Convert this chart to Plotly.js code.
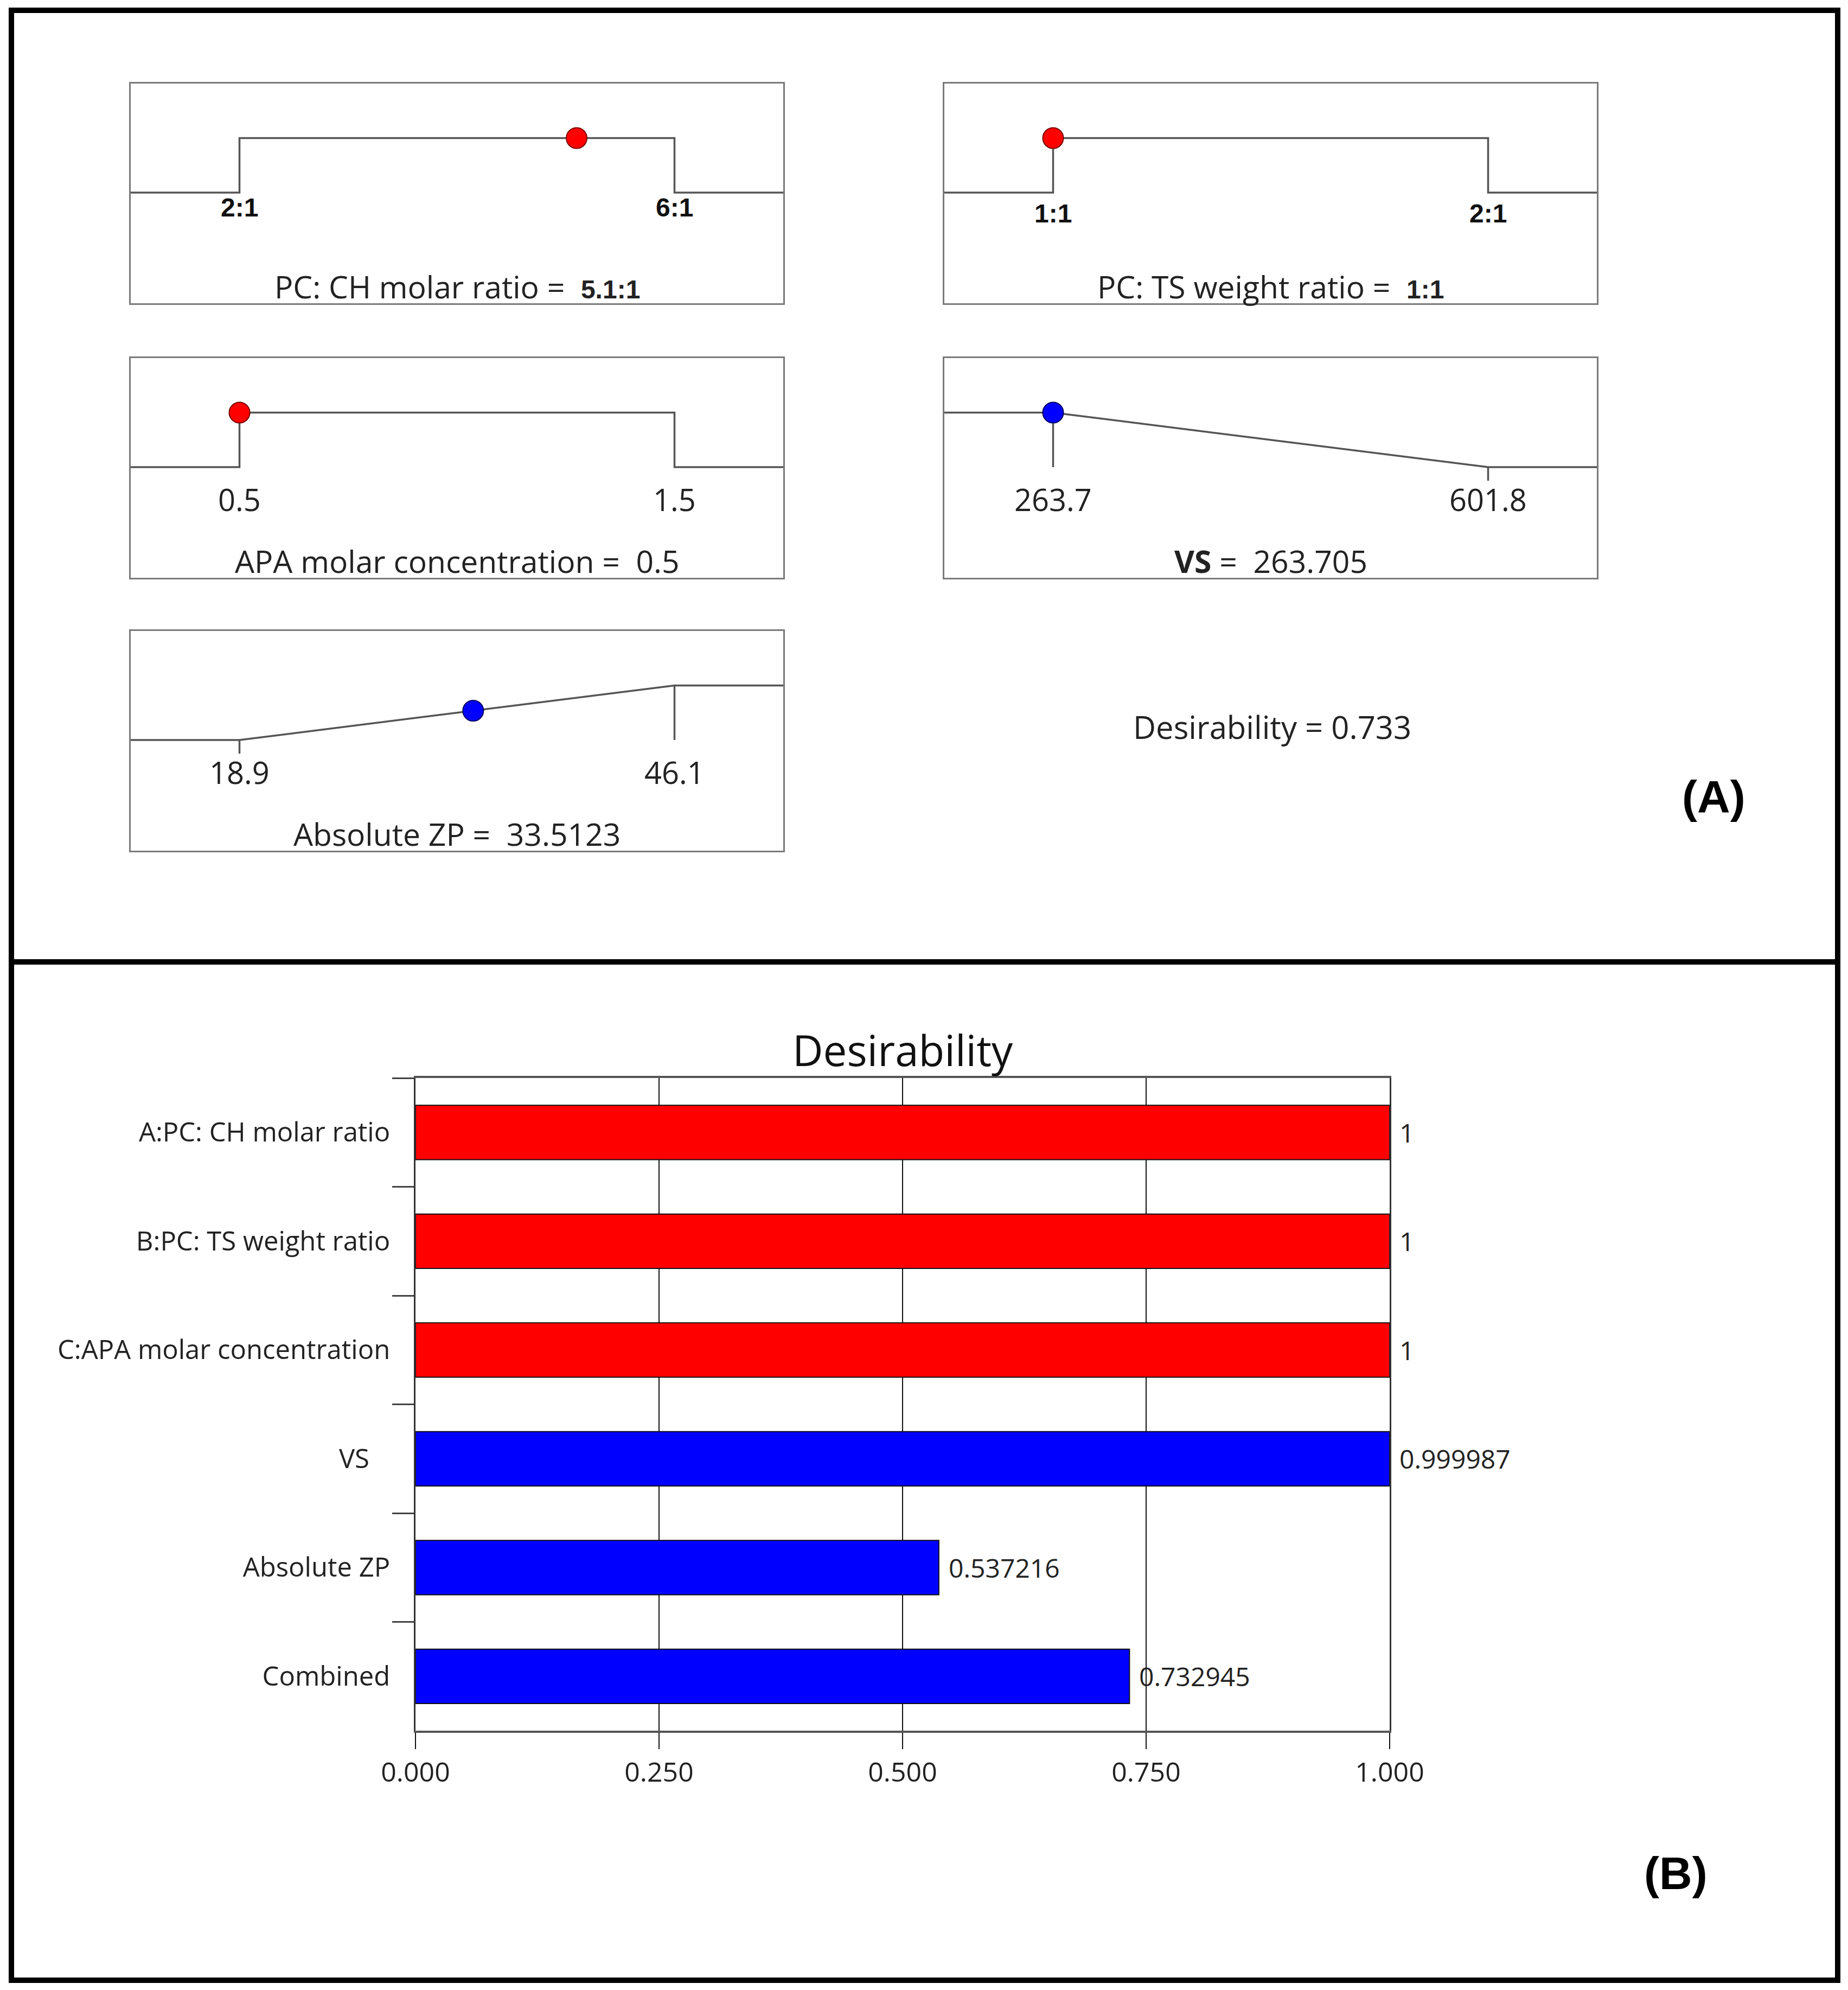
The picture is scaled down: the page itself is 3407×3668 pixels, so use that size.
<!DOCTYPE html>
<html>
<head>
<meta charset="utf-8">
<script src="https://cdn.plot.ly/plotly-3.0.1.min.js"></script>
<style>html,body{margin:0;padding:0;background:#fff;}</style>
</head>
<body>
<div id="chart" style="width:3407px;height:3668px;"></div>
<script>
// ---------------- DATA ----------------
const factorNames   = ['PC: CH molar ratio', 'PC: TS weight ratio', 'APA molar concentration', 'VS', 'Absolute ZP'];
const lowLimits     = [2, 1, 0.5, 263.7, 18.9];
const highLimits    = [6, 2, 1.5, 601.8, 46.1];
const lowLabels     = ['2:1', '1:1', '0.5', '263.7', '18.9'];
const highLabels    = ['6:1', '2:1', '1.5', '601.8', '46.1'];
const goals         = ['in range', 'in range', 'in range', 'minimize', 'maximize'];
const solutions     = [5.1, 1, 0.5, 263.705, 33.5123];
const solutionLabels= ['5.1:1', '1:1', '0.5', '263.705', '33.5123'];
const itemKinds     = ['factor', 'factor', 'factor', 'response', 'response', 'combined'];

const barCategories = ['A:PC: CH molar ratio', 'B:PC: TS weight ratio', 'C:APA molar concentration', 'VS\u00a0\u00a0\u00a0', 'Absolute ZP', 'Combined'];
const desirabilityValues = [1, 1, 1, 0.999987, 0.537216, 0.732945];
const desirabilityLabels = ['1', '1', '1', '0.999987', '0.537216', '0.732945'];
const xTickValues = [0, 0.25, 0.5, 0.75, 1.0];

// ---------------- STYLE ----------------
const W = 3407, H = 3668;
const px = v => v / W;
const py = v => 1 - v / H;
const RED = '#FF0000', BLUE = '#0000FF';
const kindColor = k => (k === 'factor' ? RED : BLUE);
const kindEdge  = k => (k === 'factor' ? '#7a0000' : '#000060');

// panel A box pixel rectangles [left, right, top, bottom]
const boxRects = [
  [241, 1444, 154, 559],
  [1741, 2944, 154, 559],
  [241, 1444, 660, 1065],
  [1741, 2944, 660, 1065],
  [241, 1444, 1163, 1568]
];
const limitLabelLevel = [-0.27, -0.38, -0.59, -0.59, -0.59];
const limitLabelBold  = [true, true, false, false, false];
const titleValueBold  = [true, true, false, false, false];
const titleNameBold   = [false, false, false, true, false];
const Y_RANGE = [-2.03, 2.0];
const TITLE_LEVEL = -1.72;

const traces = [];
const annotations = [];
const layout = {
  width: W, height: H,
  margin: {l: 0, r: 0, t: 0, b: 0},
  paper_bgcolor: '#ffffff',
  plot_bgcolor: '#ffffff',
  showlegend: false,
  font: {family: 'Open Sans, sans-serif', color: '#222'},
  shapes: [
    {type: 'rect', xref: 'paper', yref: 'paper', x0: px(21), x1: px(3388), y0: py(3650), y1: py(19),
     line: {color: '#000', width: 10}},
    {type: 'line', xref: 'paper', yref: 'paper', x0: px(21), x1: px(3388), y0: py(1773), y1: py(1773),
     line: {color: '#000', width: 10}}
  ],
  annotations: annotations
};

// ---------------- PANEL A ----------------
factorNames.forEach((name, i) => {
  const n = i + 1;
  const xa = n === 1 ? 'x' : 'x' + n;
  const ya = n === 1 ? 'y' : 'y' + n;
  const lo = lowLimits[i], hi = highLimits[i], span = hi - lo;
  const x0 = lo - 0.25 * span, x1 = hi + 0.25 * span;
  const r = boxRects[i];
  const d = desirabilityValues[i];

  layout[n === 1 ? 'xaxis' : 'xaxis' + n] = {
    domain: [px(r[0]), px(r[1])], range: [x0, x1], anchor: ya,
    showgrid: false, zeroline: false, showticklabels: false, ticks: '',
    showline: true, mirror: true, linecolor: '#7a7a7a', linewidth: 3, fixedrange: true
  };
  layout[n === 1 ? 'yaxis' : 'yaxis' + n] = {
    domain: [py(r[3]), py(r[2])], range: Y_RANGE, anchor: xa,
    showgrid: false, zeroline: false, showticklabels: false, ticks: '',
    showline: true, mirror: true, linecolor: '#7a7a7a', linewidth: 3, fixedrange: true
  };

  // desirability function curve
  let cx, cy, dLo, dHi;
  if (goals[i] === 'in range') { cx = [x0, lo, lo, hi, hi, x1]; cy = [0, 0, 1, 1, 0, 0]; dLo = null; dHi = null; }
  else if (goals[i] === 'minimize') { cx = [x0, lo, hi, x1]; cy = [1, 1, 0, 0]; dLo = 1; dHi = 0; }
  else { cx = [x0, lo, hi, x1]; cy = [0, 0, 1, 1]; dLo = 0; dHi = 1; }
  traces.push({type: 'scatter', mode: 'lines', x: cx, y: cy, xaxis: xa, yaxis: ya,
    line: {color: '#555', width: 3.5}, hoverinfo: 'skip'});

  // limit tick lines for ramp goals
  if (dLo !== null) {
    const tx = [lo, lo, null, hi, hi];
    const ty = [dLo, dLo > 0 ? 0 : -0.25, null, dHi, dHi > 0 ? 0 : -0.25];
    traces.push({type: 'scatter', mode: 'lines', x: tx, y: ty, xaxis: xa, yaxis: ya,
      line: {color: '#555', width: 3.5}, hoverinfo: 'skip'});
  }

  // current solution dot
  traces.push({type: 'scatter', mode: 'markers', x: [solutions[i]], y: [d], xaxis: xa, yaxis: ya,
    cliponaxis: false,
    marker: {size: 38, color: kindColor(itemKinds[i]), line: {color: kindEdge(itemKinds[i]), width: 2}},
    hoverinfo: 'skip'});

  // limit labels
  const lblFont = limitLabelBold[i]
    ? {family: 'Liberation Sans, Arial, sans-serif', size: 48, color: '#111', weight: 'bold'}
    : {family: 'Open Sans, sans-serif', size: 56, color: '#222'};
  [[lo, lowLabels[i]], [hi, highLabels[i]]].forEach(([xv, txt]) => {
    annotations.push({xref: xa, yref: ya, x: xv, y: limitLabelLevel[i], text: limitLabelBold[i] ? '<b>' + txt + '</b>' : txt,
      showarrow: false, xanchor: 'center', yanchor: 'middle', font: lblFont});
  });

  // bottom title
  const nm = titleNameBold[i] ? '<b>' + name + '</b>' : name;
  const val = titleValueBold[i]
    ? '<span style="font-family:Liberation Sans, Arial, sans-serif;font-size:48px"><b>' + solutionLabels[i] + '</b></span>'
    : solutionLabels[i];
  annotations.push({xref: xa, yref: ya, x: (x0 + x1) / 2, y: TITLE_LEVEL, text: nm + ' =  ' + val,
    showarrow: false, xanchor: 'center', yanchor: 'middle',
    font: {family: 'Open Sans, sans-serif', size: 57, color: '#222'}});
});

// overall desirability text
const combined = desirabilityValues[desirabilityValues.length - 1];
annotations.push({xref: 'paper', yref: 'paper', x: px(2345), y: py(1340),
  text: 'Desirability = ' + combined.toFixed(3), showarrow: false, xanchor: 'center', yanchor: 'middle',
  font: {family: 'Open Sans, sans-serif', size: 58, color: '#222'}});

// panel tags
annotations.push({xref: 'paper', yref: 'paper', x: px(3159), y: py(1469), text: '<b>(A)</b>', showarrow: false,
  xanchor: 'center', yanchor: 'middle', font: {family: 'Liberation Sans, Arial, sans-serif', size: 84, color: '#000'}});
annotations.push({xref: 'paper', yref: 'paper', x: px(3089), y: py(3453), text: '<b>(B)</b>', showarrow: false,
  xanchor: 'center', yanchor: 'middle', font: {family: 'Liberation Sans, Arial, sans-serif', size: 84, color: '#000'}});

// ---------------- PANEL B ----------------
traces.push({
  type: 'bar', orientation: 'h', x: desirabilityValues, y: barCategories,
  xaxis: 'x6', yaxis: 'y6', width: 0.5,
  marker: {color: itemKinds.map(kindColor), line: {color: '#111', width: 2}},
  hoverinfo: 'skip'
});

layout.xaxis6 = {
  domain: [px(766), px(2562)], range: [0, 1], anchor: 'y6',
  tickmode: 'array', tickvals: xTickValues, tickformat: '.3f',
  showgrid: true, gridcolor: '#111', gridwidth: 2,
  ticks: 'outside', ticklen: 30, tickwidth: 2, tickcolor: '#111',
  showline: true, mirror: true, linecolor: '#555', linewidth: 4,
  zeroline: false, tickfont: {family: 'Open Sans, sans-serif', size: 50, color: '#222'}, fixedrange: true
};
layout.yaxis6 = {
  domain: [py(3190), py(1987)], anchor: 'x6', type: 'category', autorange: 'reversed',
  ticks: 'outside', tickson: 'boundaries', ticklen: 40, tickwidth: 3, tickcolor: '#444',
  ticklabelstandoff: 34,
  showgrid: false, zeroline: false,
  showline: true, mirror: true, linecolor: '#333', linewidth: 3,
  tickfont: {family: 'Open Sans, sans-serif', size: 49, color: '#222'}, fixedrange: true
};

annotations.push({xref: 'paper', yref: 'paper', x: px(1664), y: py(1935), text: 'Desirability',
  showarrow: false, xanchor: 'center', yanchor: 'middle',
  font: {family: 'Open Sans, sans-serif', size: 78, color: '#111'}});

desirabilityValues.forEach((v, i) => {
  annotations.push({xref: 'x6', yref: 'y6', x: v, y: barCategories[i], text: desirabilityLabels[i],
    showarrow: false, xanchor: 'left', yanchor: 'middle', xshift: 16,
    font: {family: 'Open Sans, sans-serif', size: 48, color: '#222'}});
});

Plotly.newPlot('chart', traces, layout, {displayModeBar: false, staticPlot: true});
</script>
</body>
</html>
